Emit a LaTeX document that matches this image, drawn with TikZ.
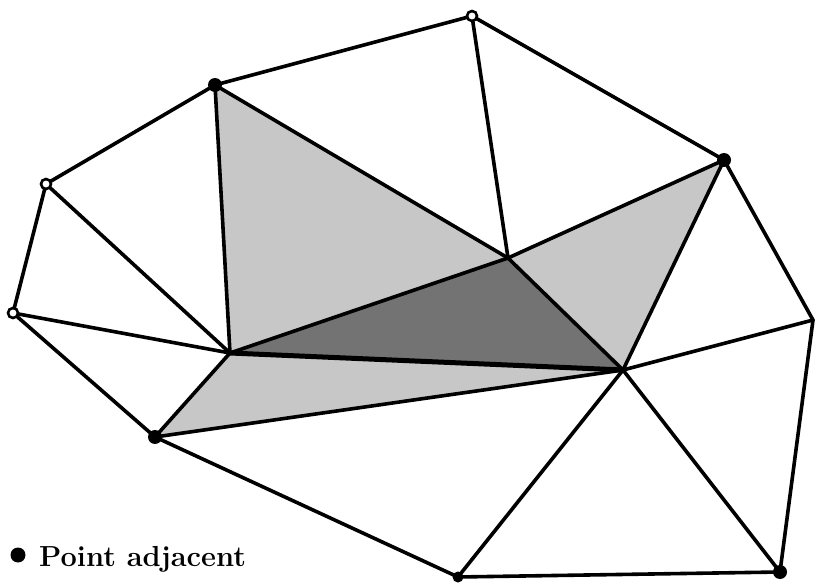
\documentclass[tikz,border=0pt]{standalone}
\begin{document}
\begin{tikzpicture}[x=1pt,y=-1pt,
  edge/.style={line width=3.6pt,line cap=round,line join=round},
  thick edge/.style={line width=5pt,line cap=round},
  fulldot/.style={circle,fill=black,inner sep=0pt,minimum size=14pt},
  opendot/.style={circle,draw=black,fill=white,line width=2.6pt,inner sep=0pt,minimum size=10pt},
  lightshade/.style={fill=black!22},
  darkshade/.style={fill=black!55}]
\useasboundingbox (0,0) rectangle (815,583);
\coordinate (A) at (215,85);
\coordinate (B) at (472,16);
\coordinate (C) at (724,160);
\coordinate (D) at (46,184);
\coordinate (E) at (13,313);
\coordinate (F) at (230,353);
\coordinate (G) at (508,258);
\coordinate (H) at (623,370);
\coordinate (I) at (813,320);
\coordinate (J) at (155,437);
\coordinate (K) at (458,577);
\coordinate (L) at (780,572);
% shading
\fill[lightshade] (A) -- (F) -- (G) -- cycle;
\fill[lightshade] (G) -- (C) -- (H) -- cycle;
\fill[lightshade] (F) -- (J) -- (H) -- cycle;
\fill[darkshade] (F) -- (G) -- (H) -- cycle;
% edges
\draw[edge] (A) -- (B) -- (C) -- (I) -- (L) -- (K) -- (J) -- (E) -- (D) -- (A);
\draw[edge] (A) -- (F);
\draw[edge] (D) -- (F);
\draw[edge] (E) -- (F);
\draw[edge] (A) -- (G);
\draw[edge] (B) -- (G);
\draw[edge] (G) -- (C);
\draw[edge] (G) -- (F);
\draw[edge] (G) -- (H);
\draw[edge] (C) -- (H);
\draw[edge] (H) -- (I);
\draw[edge] (H) -- (L);
\draw[edge] (H) -- (K);
\draw[edge] (J) -- (F);
\draw[edge] (J) -- (H);
\draw[thick edge] (F) -- (H);
% vertex marks
\node[fulldot] (a) at (A) {};
\node[opendot] (b) at (B) {};
\node[fulldot] (c) at (C) {};
\node[opendot] (d) at (D) {};
\node[opendot] (e) at (E) {};
\node[fulldot] (j) at (J) {};
\node[fulldot,minimum size=11pt] (k) at (K) {};
\node[fulldot] (l) at (L) {};
% legend
\node[fulldot,minimum size=15pt] (legdot) at (18,555) {};
\node[anchor=base west,inner sep=0pt,font=\fontsize{29}{32}\selectfont\bfseries] (legtext) at (39,566) {Point adjacent};
\end{tikzpicture}
\end{document}
